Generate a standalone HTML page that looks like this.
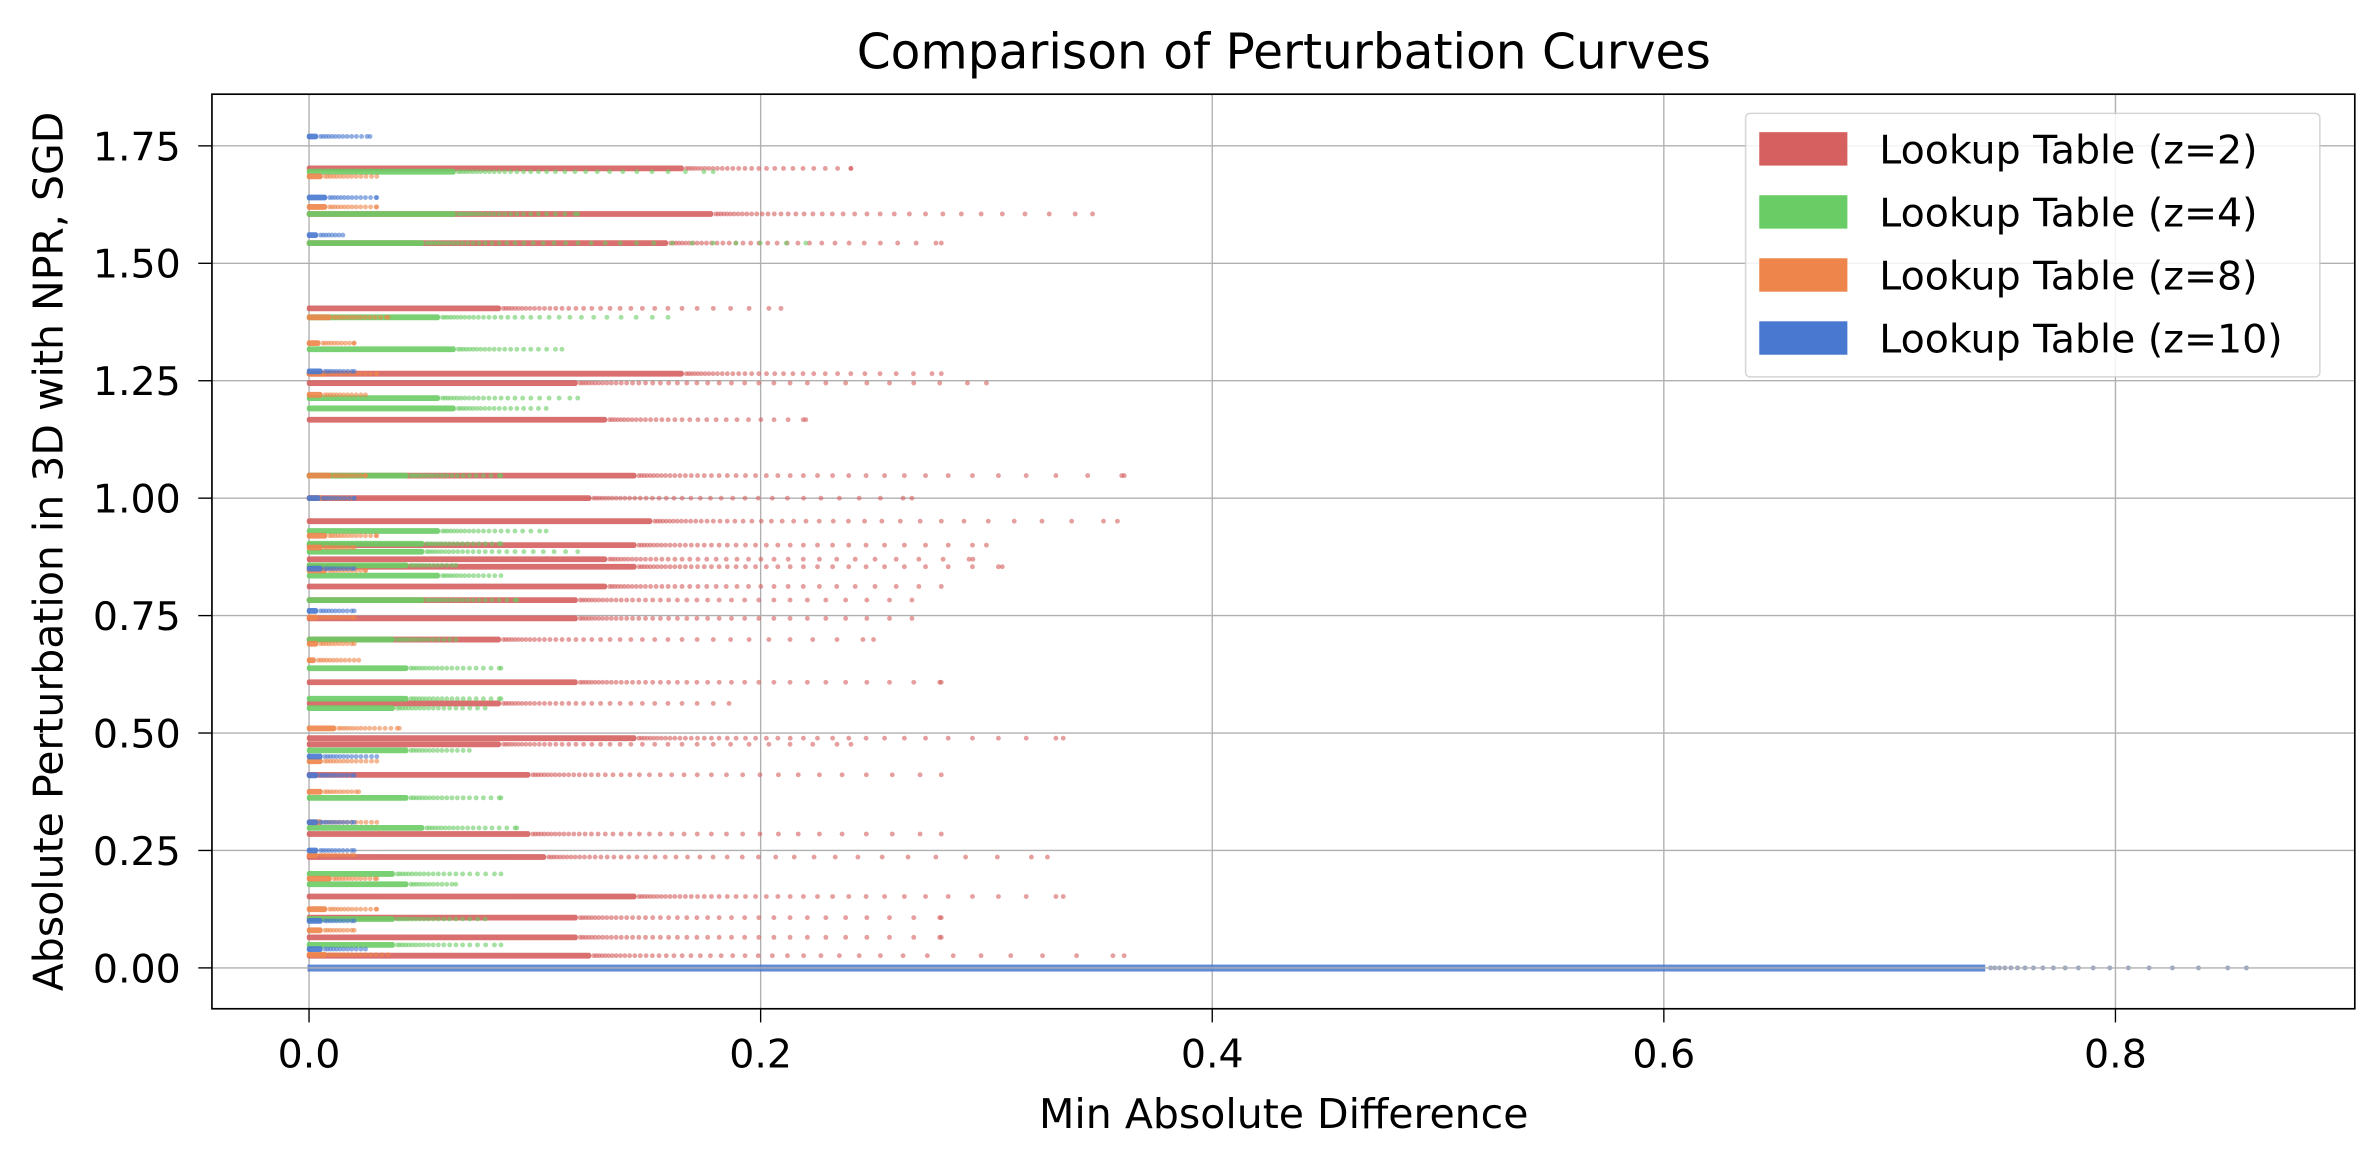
<!DOCTYPE html>
<html><head><meta charset="utf-8"><style>
html,body{margin:0;padding:0;background:#fff;}
svg{display:block;font-family:"DejaVu Sans","Liberation Sans",sans-serif;}
</style></head><body>
<svg id="chart" width="2370" height="1166" viewBox="0 0 1560 767.5" xmlns="http://www.w3.org/2000/svg">
<rect x="0" y="0" width="1560" height="767.5" fill="#fff"/>
<g id="grid"></g>
<g id="marks"></g>
<g id="grid2"></g>
<rect x="139.5" y="62" width="1410.5" height="602" fill="none" stroke="#000" stroke-width="1.1"/>
<g id="ticks"></g>
<text x="845" y="45" text-anchor="middle" font-size="32">Comparison of Perturbation Curves</text>
<text x="845" y="742.5" text-anchor="middle" font-size="27">Min Absolute Difference</text>
<text transform="translate(41,363) rotate(-90)" text-anchor="middle" font-size="27">Absolute Perturbation in 3D with NPR, SGD</text>
<g id="legend"></g>
</svg>
<script>
const xTicks=[0.0,0.2,0.4,0.6,0.8];
const xTickLabels=["0.0","0.2","0.4","0.6","0.8"];
const yTicks=[0,0.25,0.5,0.75,1.0,1.25,1.5,1.75];
const yTickLabels=["0.00","0.25","0.50","0.75","1.00","1.25","1.50","1.75"];
const seriesNames=["Lookup Table (z=2)","Lookup Table (z=4)","Lookup Table (z=8)","Lookup Table (z=10)"];
// rows: [y level, dense end x, tail end x]
const redRows=[[1.702,.166,.24],[1.605,.179,.347],[1.543,.159,.28],[1.404,.085,.209],[1.265,.166,.28],[1.245,.119,.30],[1.167,.132,.22],[1.048,.145,.361],[1.0,.125,.267],[0.951,.152,.358],[0.9,.145,.30],[0.87,.132,.294],[0.854,.145,.307],[0.812,.132,.28],[0.783,.119,.267],[0.744,.119,.267],[0.699,.085,.25],[0.608,.119,.28],[0.563,.085,.186],[0.489,.145,.334],[0.476,.085,.24],[0.411,.098,.28],[0.285,.098,.28],[0.236,.105,.327],[0.152,.145,.334],[0.107,.119,.28],[0.065,.119,.28],[0.026,.125,.361]];
const greenRows=[[1.695,.065,.179],[1.605,.065,.119],[1.543,.051,.22],[1.385,.058,.159],[1.317,.065,.112],[1.213,.058,.119],[1.191,.065,.105],[1.048,.044,.085],[0.93,.058,.105],[0.903,.051,.085],[0.886,.051,.119],[0.857,.044,.065],[0.835,.058,.085],[0.783,.051,.092],[0.699,.038,.065],[0.638,.044,.085],[0.573,.044,.085],[0.553,.038,.078],[0.463,.044,.071],[0.362,.044,.085],[0.298,.051,.092],[0.2,.038,.085],[0.178,.044,.065],[0.104,.038,.078],[0.049,.038,.085]];
const orangeRows=[[1.685,.006,.03],[1.62,.008,.03],[1.385,.01,.035],[1.33,.005,.02],[1.265,.008,.03],[1.22,.006,.025],[1.048,.01,.025],[1.0,.006,.02],[0.92,.008,.03],[0.895,.006,.02],[0.846,.008,.025],[0.746,.004,.02],[0.69,.004,.02],[0.655,.003,.022],[0.51,.012,.04],[0.44,.006,.03],[0.375,.006,.022],[0.31,.006,.03],[0.24,.004,.02],[0.19,.01,.03],[0.125,.008,.03],[0.08,.006,.02],[0.028,.008,.035]];
const blueRows=[[1.77,.004,.027],[1.64,.008,.03],[1.56,.004,.015],[1.27,.006,.02],[1.0,.005,.02],[0.85,.006,.02],[0.76,.004,.02],[0.45,.006,.03],[0.41,.004,.02],[0.31,.004,.02],[0.25,.004,.02],[0.1,.006,.02],[0.04,.006,.025]];
const zeroRow=[0.0,0.743,0.858];
const colors=["#d65f5f","#6acc64","#ee854a","#4878d0"];

const X0=139.5,X1=1550,Y0=62,Y1=664;
const xmin=-0.043,xmax=0.906,ymin=-0.087,ymax=1.86;
const sx=v=>X0+(v-xmin)/(xmax-xmin)*(X1-X0);
const sy=v=>Y1-(v-ymin)/(ymax-ymin)*(Y1-Y0);
const NS="http://www.w3.org/2000/svg";
function mk(tag,attrs,parent){const e=document.createElementNS(NS,tag);for(const k in attrs)e.setAttribute(k,attrs[k]);parent.appendChild(e);return e;}
const grid=document.getElementById('grid'),grid2=document.getElementById('grid2'),ticks=document.getElementById('ticks'),marks=document.getElementById('marks'),legend=document.getElementById('legend');
xTicks.forEach((v,i)=>{
  const g=mk('line',{x1:sx(v),x2:sx(v),y1:Y0,y2:Y1,stroke:'#b0b0b0','stroke-width':0.9},grid);
  
  
  mk('line',{x1:sx(v),x2:sx(v),y1:Y1,y2:Y1+9,stroke:'#000','stroke-width':0.9},ticks);
  const t=mk('text',{x:sx(v),y:702.5,'text-anchor':'middle','font-size':26},ticks);
  t.textContent=xTickLabels[i];
  
  
});
yTicks.forEach((v,i)=>{
  const g=mk('line',{x1:X0,x2:X1,y1:sy(v),y2:sy(v),stroke:'#b0b0b0','stroke-width':0.9},v===0?grid2:grid);
  
  
  mk('line',{x1:X0-9,x2:X0,y1:sy(v),y2:sy(v),stroke:'#000','stroke-width':0.9},ticks);
  const t=mk('text',{x:119,y:sy(v)+9.5,'text-anchor':'end','font-size':26},ticks);
  t.textContent=yTickLabels[i];
  
  
});
function drawRows(rows,color,name){
  const g=mk('g',{},marks);
  
  
  rows.forEach(r=>{
    const y=sy(r[0]),xa=sx(0),xd=sx(r[1]),xt=sx(r[2]);
    mk('rect',{x:xa-1.5,y:y-1.9,width:Math.max(2,xd-xa+1.5),height:3.8,rx:1.5,fill:color,opacity:0.9},g);
    let x=xd,step=1.6;
    while(x<xt){x+=step;step*=1.07;mk('circle',{cx:Math.min(x,xt),cy:y,r:1.6,fill:color,opacity:0.6},g);}
  });
}
drawRows(redRows,colors[0],'series-z2');
drawRows(greenRows,colors[1],'series-z4');
drawRows(orangeRows,colors[2],'series-z8');
drawRows(blueRows,colors[3],'series-z10');
(function(){
  const g=mk('g',{},marks);
  
  
  const y=sy(zeroRow[0]);
  mk('rect',{x:sx(0)-1,y:y-2.2,width:sx(zeroRow[1])-sx(0),height:4.6,fill:colors[3],opacity:0.85},g);
  let x=sx(zeroRow[1]),step=2.5;
  while(x<sx(zeroRow[2])){x+=step;step*=1.12;mk('circle',{cx:Math.min(x,sx(zeroRow[2])),cy:y,r:1.6,fill:'#8090b8',opacity:0.8},g);}
})();
mk('rect',{x:1149,y:74.6,width:378,height:173.5,rx:3,fill:'#fff',stroke:'#d0d0d0','stroke-width':1,opacity:0.85},legend);
seriesNames.forEach((n,i)=>{
  const yy=98+i*41.5;
  const p=mk('rect',{x:1158,y:yy-11,width:58,height:22,fill:colors[i]},legend);
  
  
  const t=mk('text',{x:1237,y:yy+9.5,'font-size':26},legend);
  t.textContent=n;
  
  
});
</script>
</body></html>
